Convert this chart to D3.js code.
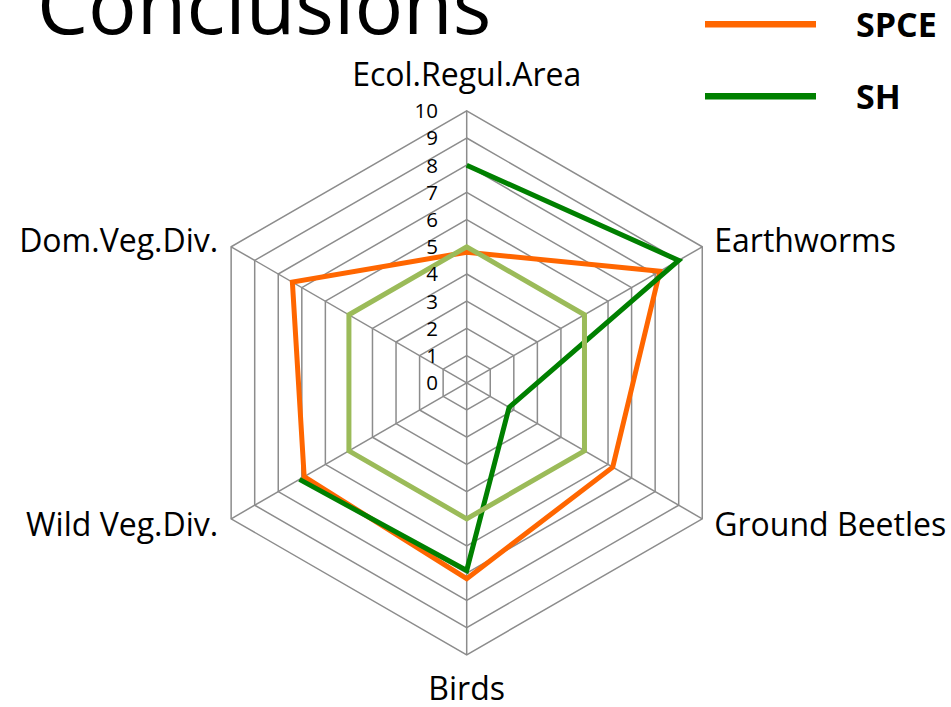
<!DOCTYPE html>
<html>
<head>
<meta charset="utf-8">
<script src="https://cdn.jsdelivr.net/npm/d3@7"></script>
<style>
  html, body { margin: 0; padding: 0; background: #ffffff; }
  svg { display: block; }
  text { font-family: "Open Sans", "Noto Sans", "DejaVu Sans", sans-serif; fill: #000; }
</style>
</head>
<body>
<svg id="chart" width="951" height="707"></svg>
<script>
// ---- data ----
const axes = ["Ecol.Regul.Area", "Earthworms", "Ground Beetles", "Birds", "Wild Veg.Div.", "Dom.Veg.Div."];
const spceValues = [4.8, 8.2, 6.2, 7.2, 6.9, 7.4];
const shValues = [8, 9, 1.8, 6.9, 7.1, null];
const refValues = [5, 5, 5, 5, 5, 5];
const tickValues = [0, 1, 2, 3, 4, 5, 6, 7, 8, 9, 10];
const legendNames = ["SPCE", "SH"];
const titleText = "Conclusions";

// ---- layout ----
const W = 951, H = 707;
const cx = 466.7, cy = 382.8, R = 272;
const colors = { spce: "#FF6600", sh: "#008000", ref: "#9BBB59", grid: "#8c8c8c" };

const svg = d3.select("#chart");
const r = d3.scaleLinear().domain([0, 10]).range([0, R]);
const n = axes.length;
const angle = i => i * 2 * Math.PI / n;

const g = svg.append("g").attr("transform", `translate(${cx},${cy})`);

// grid rings
const ringLine = d3.lineRadial().angle((d, i) => angle(i)).radius(d => r(d)).curve(d3.curveLinearClosed);
g.selectAll("path.ring").data(tickValues.filter(t => t > 0)).join("path")
  .attr("class", "ring")
  .attr("d", t => ringLine(axes.map(() => t)))
  .attr("fill", "none").attr("stroke", colors.grid).attr("stroke-width", 1.5);

// spokes
g.selectAll("line.spoke").data(axes).join("line")
  .attr("class", "spoke")
  .attr("x1", 0).attr("y1", 0)
  .attr("x2", (d, i) => r(10) * Math.sin(angle(i)))
  .attr("y2", (d, i) => -r(10) * Math.cos(angle(i)))
  .attr("stroke", colors.grid).attr("stroke-width", 1.5);

// series
const closedLine = d3.lineRadial().angle((d, i) => angle(i)).radius(d => r(d)).curve(d3.curveLinearClosed);
const openLine = d3.lineRadial().defined(d => d != null).angle((d, i) => angle(i)).radius(d => r(d));

g.append("path").attr("d", closedLine(spceValues))
  .attr("fill", "none").attr("stroke", colors.spce).attr("stroke-width", 5).attr("stroke-linejoin", "miter");
g.append("path").attr("d", openLine(shValues))
  .attr("fill", "none").attr("stroke", colors.sh).attr("stroke-width", 5).attr("stroke-linejoin", "miter");
g.append("path").attr("d", closedLine(refValues))
  .attr("fill", "none").attr("stroke", colors.ref).attr("stroke-width", 5).attr("stroke-linejoin", "miter");

// tick labels
const tickFs = 20.5;
g.selectAll("text.tick").data(tickValues).join("text")
  .attr("class", "tick")
  .attr("x", 438 - cx)
  .attr("y", t => -r(t) + tickFs * 0.357)
  .attr("text-anchor", "end")
  .attr("font-size", tickFs)
  .text(t => t);

// axis labels
const labFs = 32;
g.selectAll("text.axis").data(axes).join("text")
  .attr("class", "axis")
  .attr("font-size", labFs)
  .each(function (d, i) {
    const a = angle(i);
    const vx = r(10) * Math.sin(a), vy = -r(10) * Math.cos(a);
    const s = Math.sin(a), c = Math.cos(a);
    let x, y, anchor;
    if (Math.abs(s) < 0.01) {
      anchor = "middle"; x = vx; y = vy + (c > 0 ? -36 : 34);
    } else {
      anchor = s > 0 ? "start" : "end";
      x = vx + (s > 0 ? 12 : -13);
      y = vy + (c > 0 ? -6.5 : 6);
    }
    d3.select(this).attr("x", x).attr("y", y + labFs * 0.357).attr("text-anchor", anchor).text(d);
  });

// title
svg.append("text").attr("x", 37).attr("y", 34).attr("font-size", 81).text(titleText);

// legend
const legendColors = [colors.spce, colors.sh];
const legendY = [24.3, 96.3];
const leg = svg.selectAll("g.legend").data(legendNames).join("g").attr("class", "legend");
leg.append("line")
  .attr("x1", 705).attr("x2", 816)
  .attr("y1", (d, i) => legendY[i]).attr("y2", (d, i) => legendY[i])
  .attr("stroke", (d, i) => legendColors[i]).attr("stroke-width", 6.5);
leg.append("text")
  .attr("x", 856).attr("y", (d, i) => legendY[i] + 12.3)
  .attr("font-size", 34).attr("font-weight", "bold")
  .text(d => d);
</script>
</body>
</html>
